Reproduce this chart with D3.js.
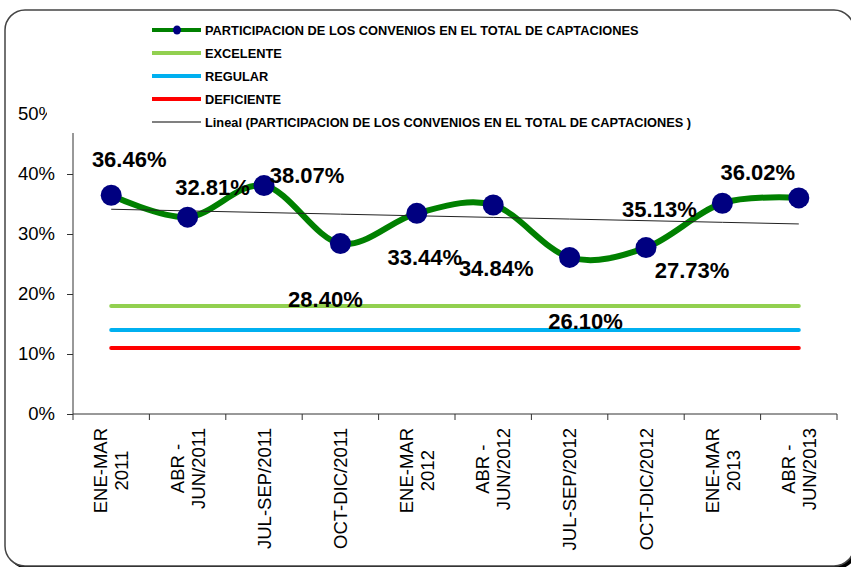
<!DOCTYPE html>
<html>
<head>
<meta charset="utf-8">
<script src="https://cdn.jsdelivr.net/npm/d3@7"></script>
<style>
  body { margin: 0; background: #fff; }
  svg { display: block; font-family: Arial, "Liberation Sans", sans-serif; }
</style>
</head>
<body>
<div id="chart-area"></div>
<script>
const SVG_WIDTH = 851;
const SVG_HEIGHT = 567;

// data
const categories = ["ENE-MAR\n2011", "ABR -\nJUN/2011", "JUL-SEP/2011", "OCT-DIC/2011", "ENE-MAR\n2012",
  "ABR -\nJUN/2012", "JUL-SEP/2012", "OCT-DIC/2012", "ENE-MAR\n2013", "ABR -\nJUN/2013"];
const participacion = [0.3646, 0.3281, 0.3807, 0.2840, 0.3344, 0.3484, 0.2610, 0.2773, 0.3513, 0.3602];
const excelente = [0.18, 0.18, 0.18, 0.18, 0.18, 0.18, 0.18, 0.18, 0.18, 0.18];
const regular = [0.14, 0.14, 0.14, 0.14, 0.14, 0.14, 0.14, 0.14, 0.14, 0.14];
const deficiente = [0.11, 0.11, 0.11, 0.11, 0.11, 0.11, 0.11, 0.11, 0.11, 0.11];
const yTicks = [0, 0.1, 0.2, 0.3, 0.4, 0.5];
const legendNames = ["PARTICIPACION DE LOS CONVENIOS EN EL TOTAL DE CAPTACIONES", "EXCELENTE", "REGULAR",
  "DEFICIENTE", "Lineal (PARTICIPACION DE LOS CONVENIOS EN EL TOTAL DE CAPTACIONES )"];

// label placement (offset from its point, as excel left them)
const labelOffsets = [[18, -36], [25, -30], [43, -11], [-15, 55], [8, 44], [3, 63], [16, 64], [46, 22], [-63, 6], [-41, -26]];

const svg = d3.select("#chart-area").append("svg").attr("width", SVG_WIDTH).attr("height", SVG_HEIGHT);

// frame with shadow
svg.append("rect").attr("x", 8).attr("y", 13).attr("width", 849).attr("height", 556).attr("rx", 20).attr("fill", "#000");
svg.append("rect").attr("x", 5).attr("y", 10).attr("width", 849).attr("height", 556).attr("rx", 20).
  attr("fill", "#fff").attr("stroke", "#444").attr("stroke-width", 1.5);

const x = d3.scaleBand().domain(categories).range([73, 837]).padding(0);
const y = d3.scaleLinear().domain([0, 0.5]).range([414, 114]);
const cx = (d, i) => x(categories[i]) + x.bandwidth() / 2;

// y axis
const yAxisGroup = svg.append("g").attr("transform", "translate(73,0)").
  call(d3.axisLeft(y).tickValues(yTicks).tickFormat(d3.format(".0%")).tickSize(6).tickPadding(12));
yAxisGroup.select(".domain").attr("d", `M0,133V414`).attr("stroke", "#333");
yAxisGroup.selectAll(".tick line").attr("stroke", "#333");
yAxisGroup.selectAll(".tick text").attr("font-size", "18.5px").attr("fill", "#000").attr("font-family", "Arial, 'Liberation Sans'");

// x axis
const xAxisGroup = svg.append("g").attr("transform", "translate(0,414)");
xAxisGroup.append("line").attr("x1", 73).attr("x2", 837).attr("stroke", "#333");
xAxisGroup.selectAll(".xtick").data(d3.range(categories.length + 1)).enter().append("line").
  attr("x1", i => 73 + i * x.bandwidth()).attr("x2", i => 73 + i * x.bandwidth()).
  attr("y1", 0).attr("y2", 6).attr("stroke", "#333");

const X_FONT = 18.5;
const LINE_H = 21;
categories.forEach((c, i) => {
  const lines = c.split("\n");
  const g = svg.append("g");
  const texts = lines.map((l, j) => g.append("text").attr("x", 0).
    attr("y", 0.716 * X_FONT / 2 + (j - (lines.length - 1) / 2) * LINE_H).
    attr("text-anchor", "middle").attr("font-size", X_FONT + "px").text(l));
  const maxLen = d3.max(texts, t => t.node().getComputedTextLength());
  g.attr("transform", `translate(${cx(null, i)},${428 + maxLen / 2}) rotate(-90)`);
});

// reference lines
const flatLine = d3.line().x((d, i) => cx(d, i)).y(d => y(d));
[[excelente, "#92D050"], [regular, "#00B0F0"], [deficiente, "#FF0000"]].forEach(([s, col]) => {
  svg.append("path").attr("d", flatLine(s)).attr("fill", "none").attr("stroke", col).
    attr("stroke-width", 4).attr("stroke-linecap", "round");
});

// main series
const smooth = d3.line().x((d, i) => cx(d, i)).y(d => y(d)).curve(d3.curveCatmullRom.alpha(0));
svg.append("path").attr("d", smooth(participacion)).attr("fill", "none").attr("stroke", "#008000").attr("stroke-width", 6);

// linear trend
const idx = d3.range(1, participacion.length + 1);
const mx = d3.mean(idx), my = d3.mean(participacion);
const slope = d3.sum(idx, (k, i) => (k - mx) * (participacion[i] - my)) / d3.sum(idx, k => (k - mx) * (k - mx));
const trend = idx.map(k => my + slope * (k - mx));
svg.append("path").attr("d", flatLine(trend)).attr("fill", "none").attr("stroke", "#222").attr("stroke-width", 1);

svg.selectAll(".dot").data(participacion).enter().append("circle").
  attr("cx", (d, i) => cx(d, i)).attr("cy", d => y(d)).attr("r", 10.5).attr("fill", "#000080");

// data labels
svg.selectAll(".lbl").data(participacion).enter().append("text").
  attr("x", (d, i) => cx(d, i) + labelOffsets[i][0]).
  attr("y", (d, i) => y(d) + labelOffsets[i][1] + 8).
  attr("text-anchor", "middle").attr("font-size", "22px").attr("font-weight", "bold").
  text(d => d3.format(".2%")(d));

// legend box (hides top of value axis like the original)
const legend = svg.append("g");
legend.append("rect").attr("x", 47).attr("y", 14).attr("width", 700).attr("height", 119).attr("fill", "#fff");
const legendStyles = [["#008000", 4], ["#92D050", 4], ["#00B0F0", 4], ["#FF0000", 4], ["#808080", 2]];
legendNames.forEach((name, i) => {
  const ly = 30 + i * 23;
  legend.append("line").attr("x1", 152).attr("x2", 201).attr("y1", ly).attr("y2", ly).
    attr("stroke", legendStyles[i][0]).attr("stroke-width", legendStyles[i][1]);
  if (i === 0) legend.append("ellipse").attr("cx", 177).attr("cy", ly).attr("rx", 4).attr("ry", 4.5).attr("fill", "#000080");
  legend.append("text").attr("x", 205).attr("y", ly + 4.5).attr("font-size", "12.8px").
    attr("font-weight", "bold").text(name);
});
</script>
</body>
</html>
